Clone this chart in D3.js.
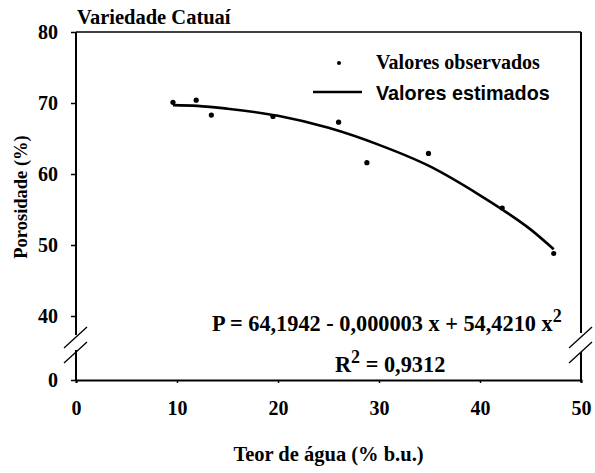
<!DOCTYPE html>
<html><head><meta charset="utf-8">
<script src="https://cdn.jsdelivr.net/npm/d3@7"></script>
<style>body{margin:0;background:#fff}svg{display:block}</style>
</head><body>
<script>
// Observed values
const obsX = [9.6, 11.9, 13.4, 19.5, 26.0, 28.8, 34.9, 42.2, 47.3];
const obsY = [70.1, 70.4, 68.3, 68.1, 67.3, 61.6, 62.9, 55.2, 48.8];
// Estimated curve
const estX = [9.6, 12, 15, 20, 25, 30, 35, 40, 42.2, 45, 47.3];
const estY = [69.7, 69.6, 69.2, 68.2, 66.5, 64.1, 61.1, 57.0, 55.0, 52.2, 49.4];
const xTicks = [0, 10, 20, 30, 40, 50];
const yTicks = [0, 40, 50, 60, 70, 80];
const title = "Variedade Catuaí";
const xTitle = "Teor de água (% b.u.)";
const yTitle = "Porosidade (%)";
const legendLabels = ["Valores observados", "Valores estimados"];

const W = 595, H = 473;
const svg = d3.select("body").append("svg").attr("width", W).attr("height", H);
const x = d3.scaleLinear().domain([0, 50]).range([76, 581]);
const y = d3.scaleLinear().domain([0, 40, 80]).range([380, 316, 32]);
const serif = "'Liberation Serif','Times New Roman',serif";

// frame top & right
svg.append("line").attr("x1", x(0)).attr("x2", x(50)).attr("y1", y(80)).attr("y2", y(80))
  .attr("stroke", "#000").attr("stroke-width", 1.5);
const gapTop = 333, gapBot = 352;
svg.append("line").attr("x1", x(50)).attr("x2", x(50)).attr("y1", y(80)).attr("y2", gapTop).attr("stroke", "#000").attr("stroke-width", 2);
svg.append("line").attr("x1", x(50)).attr("x2", x(50)).attr("y1", gapBot).attr("y2", y(0)+2).attr("stroke", "#000").attr("stroke-width", 2);

// x axis
const xAxis = svg.append("g").attr("transform", `translate(0,${y(0)})`)
  .call(d3.axisBottom(x).tickValues(xTicks).tickSize(3).tickPadding(18).tickFormat(d3.format("d")));
xAxis.select(".domain").attr("stroke-width", 2);
xAxis.selectAll(".tick line").attr("stroke-width", 1.5);
xAxis.selectAll("text").attr("font-family", serif).attr("font-weight", "bold").attr("font-size", 20).attr("fill", "#000");

// y axis (broken)
const yAxis = svg.append("g").attr("transform", `translate(${x(0)},0)`)
  .call(d3.axisLeft(y).tickValues(yTicks).tickSize(5).tickPadding(13).tickFormat(d3.format("d")));
yAxis.select(".domain").remove();
yAxis.selectAll(".tick line").attr("stroke-width", 1.5);
yAxis.selectAll("text").attr("font-family", serif).attr("font-weight", "bold").attr("font-size", 20).attr("fill", "#000");
svg.append("line").attr("x1", x(0)).attr("x2", x(0)).attr("y1", y(80)).attr("y2", gapTop+2).attr("stroke", "#000").attr("stroke-width", 2);
svg.append("line").attr("x1", x(0)).attr("x2", x(0)).attr("y1", gapBot-2).attr("y2", y(0)).attr("stroke", "#000").attr("stroke-width", 2);

// break marks
function brk(cx) {
  [[348, 327], [363, 342]].forEach(([ya, yb]) => {
    svg.append("line").attr("x1", cx - 12).attr("y1", ya).attr("x2", cx + 11).attr("y2", yb)
      .attr("stroke", "#000").attr("stroke-width", 1.3);
  });
}
brk(x(0)); brk(x(50));

// estimated curve
const line = d3.line().x((d, i) => x(estX[i])).y((d, i) => y(estY[i])).curve(d3.curveMonotoneX);
svg.append("path").datum(estY).attr("d", line).attr("fill", "none").attr("stroke", "#000").attr("stroke-width", 2.6);

// observed points
svg.selectAll("circle.obs").data(obsX).enter().append("circle")
  .attr("cx", d => x(d)).attr("cy", (d, i) => y(obsY[i])).attr("r", 2.6).attr("fill", "#000");

// title
svg.append("text").attr("x", 77).attr("y", 24).text(title)
  .attr("font-family", serif).attr("font-weight", "bold").attr("font-size", 20.5);

// legend
svg.append("circle").attr("cx", 339).attr("cy", 63).attr("r", 2).attr("fill", "#000");
svg.append("text").attr("x", 376).attr("y", 69).text(legendLabels[0])
  .attr("font-family", serif).attr("font-weight", "bold").attr("font-size", 20);
svg.append("line").attr("x1", 313).attr("x2", 362).attr("y1", 92).attr("y2", 92).attr("stroke", "#000").attr("stroke-width", 2.5);
svg.append("text").attr("x", 376).attr("y", 100).text(legendLabels[1])
  .attr("font-family", "'Liberation Sans',Arial,sans-serif").attr("font-weight", "bold").attr("font-size", 19.8);

// equation
const eq = svg.append("text").attr("x", 212).attr("y", 331)
  .attr("font-family", serif).attr("font-size", 22.3).attr("font-weight", "bold");
eq.append("tspan").text("P = 64,1942 - 0,000003 x + 54,4210 x");
eq.append("tspan").attr("dy", -9).attr("font-size", 18).text("2");
const r2 = svg.append("text").attr("x", 335).attr("y", 372)
  .attr("font-family", serif).attr("font-size", 22.3).attr("font-weight", "bold");
r2.append("tspan").text("R");
r2.append("tspan").attr("dy", -9).attr("font-size", 18).text("2");
r2.append("tspan").attr("dy", 9).text(" = 0,9312");

// axis titles
svg.append("text").attr("x", 328.5).attr("y", 461).attr("text-anchor", "middle").text(xTitle)
  .attr("font-family", serif).attr("font-weight", "bold").attr("font-size", 20.5);
svg.append("text").attr("transform", "translate(27,197) rotate(-90)").attr("text-anchor", "middle").text(yTitle)
  .attr("font-family", serif).attr("font-weight", "bold").attr("font-size", 18.5);
</script>
</body></html>
